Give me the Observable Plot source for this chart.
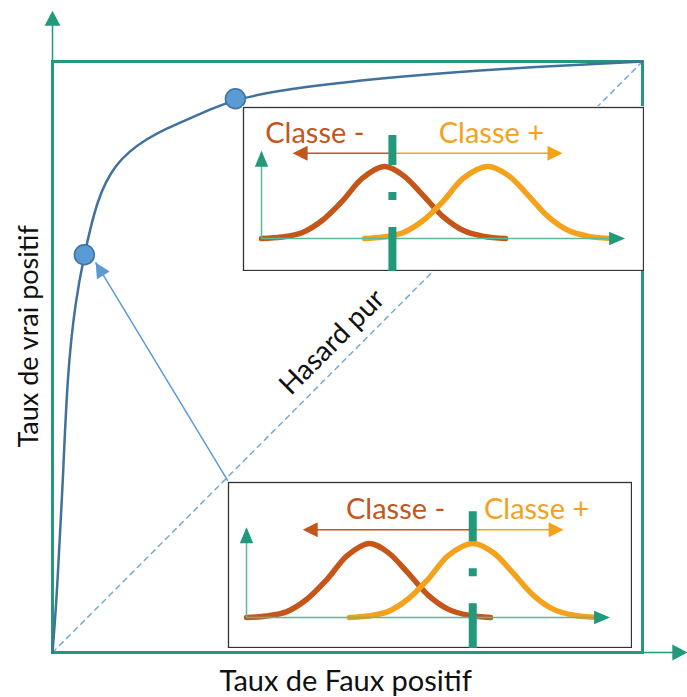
<!DOCTYPE html>
<html><head><meta charset="utf-8">
<script src="https://cdn.jsdelivr.net/npm/d3@7"></script>
<script src="https://cdn.jsdelivr.net/npm/@observablehq/plot@0.6"></script>
<style>
html,body{margin:0;padding:0;background:#fff;}
#wrap{position:relative;width:687px;height:697px;overflow:hidden;}
#wrap svg{position:absolute;}
</style></head><body><div id="wrap"></div>
<script>
// ---- ROC curve ----
const rocFPR = [0, 0.007, 0.012, 0.017, 0.025, 0.039, 0.054, 0.064, 0.076, 0.090, 0.107, 0.129, 0.158, 0.192, 0.231, 0.265, 0.310, 0.42, 0.59, 0.76, 1];
const rocTPR = [0, 0.09, 0.19, 0.274, 0.472, 0.596, 0.673, 0.717, 0.762, 0.796, 0.824, 0.847, 0.868, 0.886, 0.903, 0.918, 0.937, 0.957, 0.975, 0.988, 1];
// operating points (the two thresholds)
const opFPR = [0.054, 0.310];
const opTPR = [0.673, 0.937];
// chance diagonal
const chanceFPR = [0, 1];
const chanceTPR = [0, 1];
const chanceLabel = "Hasard pur";
const xTitle = "Taux de Faux positif";
const yTitle = "Taux de vrai positif";
// pointer from the lower inset to the lower operating point
const pointerFPR = [0.297, 0.073];
const pointerTPR = [0.291, 0.660];

// ---- score distributions in the insets ----
const negScore   = [0, 0.5, 1.0, 1.5, 2.0, 2.5, 3.04, 3.5, 4.0, 4.5, 5.0, 5.5, 6.04];
const negDensity = [0, 0.02, 0.08, 0.25, 0.52, 0.84, 1.0, 0.88, 0.60, 0.30, 0.11, 0.03, 0];
const posScore   = [2.55, 3.0, 3.5, 4.0, 4.5, 5.0, 5.6, 6.1, 6.6, 7.1, 7.6, 8.1, 8.7];
const posDensity = [0, 0.02, 0.08, 0.25, 0.52, 0.84, 1.0, 0.88, 0.60, 0.30, 0.11, 0.03, 0];
const classLabels = ["Classe -", "Classe +"];
const thresholds = [3.24, 5.6];

// ---- styles ----
const GREEN = "#22997a", GREEN_LIGHT = "#5cb89a";
const RED = "#c4561a", ORANGE = "#f4a21c";
const BLUE_DARK = "#41719c", BLUE = "#5b9bd5";
const FONT = "Lato";

// filled triangular arrow head, tip at the point, pointing along (dx,dy) in screen space
function head(dx, dy, ratio) {
  const n = Math.hypot(dx, dy), ux = dx / n, uy = dy / n;
  return {draw(ctx, size) {
    const L = Math.sqrt(size / Math.PI), w = L * ratio;
    const bx = -ux * L, by = -uy * L;
    ctx.moveTo(0, 0);
    ctx.lineTo(bx - uy * w, by + ux * w);
    ctx.lineTo(bx + uy * w, by - ux * w);
    ctx.closePath();
  }};
}

const roc = rocFPR.map((f, i) => ({f, t: rocTPR[i]}));
const ops = opFPR.map((f, i) => ({f, t: opTPR[i]}));
const chance = chanceFPR.map((f, i) => ({f, t: chanceTPR[i]}));

const W = 687, H = 697, mL = 52, mT = 61, mR = 45, mB = 45;
const pw = W - mL - mR, ph = H - mT - mB;
const yTip = 1.086, xTip = 1.076;
const pdx = (pointerFPR[1] - pointerFPR[0]) * pw, pdy = -(pointerTPR[1] - pointerTPR[0]) * ph;

const main = Plot.plot({
  width: W, height: H,
  marginLeft: mL, marginTop: mT, marginRight: mR, marginBottom: mB,
  x: {domain: [0, 1], axis: null},
  y: {domain: [0, 1], axis: null},
  style: {fontFamily: FONT, background: "transparent"},
  marks: [
    Plot.line(chance, {x: "f", y: "t", stroke: BLUE, strokeOpacity: 0.85, strokeWidth: 1.5, strokeDasharray: "5,5"}),
    Plot.link([0], {x1: 0, y1: 1, x2: 0, y2: yTip - 0.01, stroke: GREEN, strokeWidth: 1.5}),
    Plot.link([0], {x1: 1, y1: 0, x2: xTip - 0.01, y2: 0, stroke: GREEN, strokeWidth: 1.5}),
    Plot.dot([0], {x: 0, y: yTip, r: 15, symbol: head(0, -1, 0.53), fill: GREEN, stroke: "none"}),
    Plot.dot([0], {x: xTip, y: 0, r: 15, symbol: head(1, 0, 0.53), fill: GREEN, stroke: "none"}),
    Plot.frame({stroke: GREEN, strokeWidth: 3}),
    Plot.line(roc, {x: "f", y: "t", stroke: BLUE_DARK, strokeWidth: 2.5, curve: "basis"}),
    Plot.link([0], {x1: pointerFPR[0], y1: pointerTPR[0], x2: pointerFPR[1], y2: pointerTPR[1], stroke: BLUE, strokeWidth: 1.5}),
    Plot.dot([0], {x: pointerFPR[1], y: pointerTPR[1], r: 15, symbol: head(pdx, pdy, 0.5), fill: BLUE, stroke: "none"}),
    Plot.dot(ops, {x: "f", y: "t", r: 10, fill: BLUE, stroke: BLUE_DARK, strokeWidth: 1.5}),
    Plot.text([chanceLabel], {x: 0.474, y: 0.525, text: d => d, rotate: -45, fontSize: 28, fill: "#111", fontFamily: FONT}),
    Plot.text([xTitle], {x: 0.497, y: -0.05, text: d => d, fontSize: 29, fill: "#111", fontFamily: FONT}),
    Plot.text([yTitle], {x: -0.040, y: 0.535, text: d => d, rotate: -90, fontSize: 27, fill: "#111", fontFamily: FONT})
  ]
});
main.style.left = "0px"; main.style.top = "0px";
document.getElementById("wrap").appendChild(main);

const neg = negScore.map((s, i) => ({s, d: negDensity[i]}));
const pos = posScore.map((s, i) => ({s, d: posDensity[i]}));

function inset(cfg) {
  const p = Plot.plot({
    width: cfg.w + 2, height: cfg.h + 2,
    margin: 1,
    x: {domain: cfg.xDomain, axis: null},
    y: {domain: cfg.yDomain, axis: null},
    style: {fontFamily: FONT, background: "white"},
    marks: [
      Plot.frame({stroke: "#333", strokeWidth: 1.3, fill: "white"}),
      Plot.line(neg, {x: "s", y: "d", stroke: RED, strokeWidth: 5.5, curve: "catmull-rom"}),
      Plot.line(pos, {x: "s", y: "d", stroke: ORANGE, strokeWidth: 5.5, curve: "catmull-rom"}),
      Plot.link([0], {x1: 0, y1: 0, x2: 8.95, y2: 0, stroke: GREEN_LIGHT, strokeWidth: 1.5}),
      Plot.link([0], {x1: 0, y1: 0, x2: 0, y2: 1.2, stroke: GREEN_LIGHT, strokeWidth: 1.5}),
      Plot.dot([0], {x: 9.0, y: 0, r: 16, symbol: head(1, 0, 0.42), fill: GREEN, stroke: "none"}),
      Plot.dot([0], {x: 0, y: 1.22, r: 16, symbol: head(0, -1, 0.42), fill: GREEN, stroke: "none"}),
      Plot.link([0], {x1: cfg.threshold, y1: 1.185, x2: cfg.arrow[0] + 0.1, y2: 1.185, stroke: RED, strokeWidth: 1.5}),
      Plot.link([0], {x1: cfg.threshold, y1: 1.185, x2: cfg.arrow[1] - 0.1, y2: 1.185, stroke: ORANGE, strokeWidth: 1.5}),
      Plot.dot([0], {x: cfg.arrow[0], y: 1.185, r: 15, symbol: head(-1, 0, 0.5), fill: RED, stroke: "none"}),
      Plot.dot([0], {x: cfg.arrow[1], y: 1.185, r: 15, symbol: head(1, 0, 0.5), fill: ORANGE, stroke: "none"}),
      Plot.ruleX([cfg.threshold], {y1: 1.43, y2: cfg.yDomain[0] - 0.02, stroke: GREEN, strokeWidth: 8, strokeDasharray: "30,27,8,27,80"}),
      Plot.text([classLabels[0]], {x: cfg.labels[0], y: 1.45, text: d => d, fill: RED, fontSize: 29, fontFamily: FONT}),
      Plot.text([classLabels[1]], {x: cfg.labels[1], y: 1.45, text: d => d, fill: ORANGE, fontSize: 29, fontFamily: FONT})
    ]
  });
  p.style.left = (cfg.left - 1) + "px";
  p.style.top = (cfg.top - 1) + "px";
  document.getElementById("wrap").appendChild(p);
}

inset({left: 243, top: 107, w: 400, h: 163, xDomain: [-0.446, 9.455], yDomain: [-0.444, 1.82],
       threshold: thresholds[0], labels: [1.32, 5.69], arrow: [0.77, 7.45]});
inset({left: 228, top: 482, w: 403, h: 165, xDomain: [-0.446, 9.53], yDomain: [-0.405, 1.824],
       threshold: thresholds[1], labels: [3.69, 7.18], arrow: [1.39, 7.85]});
</script></body></html>
